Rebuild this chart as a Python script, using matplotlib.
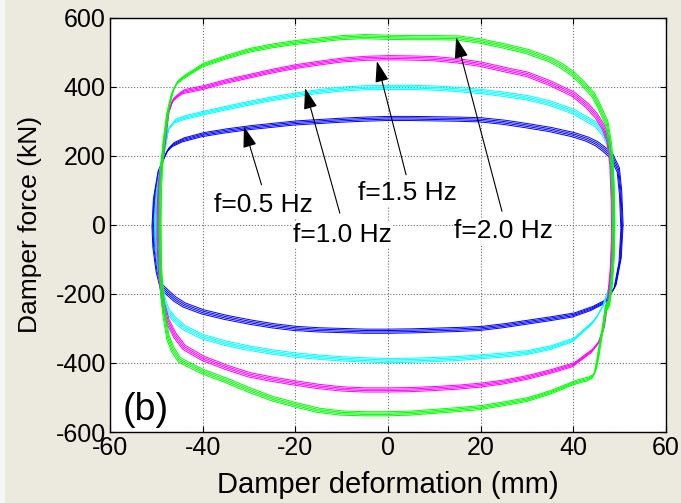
import matplotlib
matplotlib.use("Agg")
import matplotlib.pyplot as plt
from matplotlib.patches import Rectangle

plt.rcParams['font.family'] = ['Liberation Sans', 'DejaVu Sans']
plt.rcParams['axes.unicode_minus'] = False

# ---- data (x: mm, force: kN) ----
# upper branch (loading, left -> right, running through the right tip)
X_UP_05 = [-48.2, -47.5, -46.4, -44.2, -40, -35, -30, -25, -20, -15, -10, -5, 0, 5, 10, 15, 20, 25, 30, 35, 40, 43, 45, 46.5, 47.5, 48.3, 49.7, 50.2, 50.5, 50.1, 49.0, 47.5]
F_UP_05 = [198, 217, 232, 246, 261, 272, 281, 288, 295, 299, 303, 306, 308, 308, 307, 306, 304, 297, 287, 276, 261, 248, 235, 220, 208, 198, 159, 92, -5, -101, -179, -212]
# lower branch (unloading, right -> left, running through the left tip)
X_LO_05 = [46.5, 45, 44, 40, 35, 30, 25, 20, 15, 10, 5, 0, -5, -10, -15, -20, -25, -30, -35, -40, -44, -46, -47.5, -48.9, -49.8, -50.5, -50.7, -50.4, -49.4, -48.2]
F_LO_05 = [-225, -235, -242, -261, -272, -282, -292, -300, -303, -305, -307, -308, -308, -306, -304, -300, -292, -281, -268, -252, -232, -215, -197, -179, -130, -60, 0, 80, 160, 198]

X_UP_10 = [-48.5, -47.5, -46, -44, -40, -35, -30, -25, -20, -15, -10, -5, 0, 5, 10, 15, 20, 25, 30, 35, 40, 43, 45, 46.5, 47.5, 48.2, 48.6, 48.7, 48.5, 48.0, 47.2]
F_UP_10 = [200, 275, 300, 310, 323, 338, 352, 365, 376, 386, 393, 397, 398, 398, 396, 392, 386, 378, 368, 352, 328, 305, 290, 265, 237, 190, 100, 0, -100, -170, -205]
X_LO_10 = [46.5, 45, 44, 40, 35, 30, 25, 20, 15, 10, 5, 0, -5, -10, -15, -20, -25, -30, -35, -40, -44, -46, -47.5, -48.3, -49.2, -50.0, -50.2, -49.8, -49.0, -48.5]
F_LO_10 = [-232, -268, -285, -333, -356, -370, -377, -382, -387, -390, -392, -393, -391, -388, -383, -377, -368, -357, -343, -324, -298, -275, -250, -220, -150, -60, 20, 100, 170, 200]

X_UP_15 = [-48.5, -47.5, -46.5, -45, -44, -40, -35, -30, -25, -20, -15, -10, -5, 0, 5, 10, 15, 20, 25, 30, 35, 40, 43, 45, 46.5, 47.5, 48.1, 48.4, 48.5, 48.2, 47.6]
F_UP_15 = [205, 320, 360, 378, 386, 397, 415, 430, 445, 458, 468, 477, 482, 484, 483, 481, 475, 465, 450, 436, 410, 378, 345, 315, 282, 246, 180, 80, -20, -120, -210]
X_LO_15 = [47.2, 46.5, 45.5, 44, 42, 40, 35, 30, 25, 20, 15, 10, 5, 0, -5, -10, -15, -20, -25, -30, -35, -40, -44, -46, -47.5, -48.5, -49.2, -49.6, -49.6, -49.3, -48.5]
F_LO_15 = [-230, -300, -340, -365, -385, -405, -425, -442, -455, -464, -470, -474, -477, -478, -478, -475, -468, -458, -447, -434, -412, -386, -355, -320, -280, -230, -150, -50, 50, 130, 205]

X_UP_20 = [-48.8, -48.3, -47.5, -46.5, -45.5, -44, -42, -40, -35, -30, -25, -20, -15, -10, -5, 0, 5, 10, 15, 20, 25, 30, 35, 37.5, 40, 42, 44.3, 45.5, 46.5, 47.2, 48, 48.3, 48.6, 48.7, 48.6, 48.2, 47.6]
F_UP_20 = [180, 250, 330, 385, 412, 428, 445, 462, 485, 505, 518, 528, 535, 542, 545, 543, 542, 542, 541, 532, 518, 502, 478, 460, 436, 410, 376, 345, 315, 295, 230, 188, 100, 0, -100, -180, -240]
X_LO_20 = [47.2, 46.8, 46.3, 45.8, 45.3, 44.8, 44.3, 43, 42, 40, 37.5, 35, 32.5, 30, 25, 20, 15, 10, 5, 0, -5, -10, -15, -20, -25, -30, -35, -40, -43, -45, -46.5, -47.5, -48.3, -48.8, -49.1, -49.2, -49.1, -48.8]
F_LO_20 = [-227, -262, -305, -342, -385, -420, -438, -447, -450, -458, -472, -485, -496, -506, -518, -529, -535, -540, -545, -547, -547, -545, -537, -521, -503, -478, -450, -425, -405, -391, -360, -325, -260, -200, -120, 0, 100, 180]

# small shifts between the recorded cycles (kN)
CYCLE_SHIFT = [-6, -2, 2, 6]

LABELS = ['f=0.5 Hz', 'f=1.0 Hz', 'f=1.5 Hz', 'f=2.0 Hz']
COLORS = ['#0000ff', '#00ffff', '#ff00ff', '#00ff00']


def loop(xu, fu, xl, fl):
    xs = xu + xl + [xu[0]]
    fs = fu + fl + [fu[0]]
    return xs, fs


loops = [loop(X_UP_05, F_UP_05, X_LO_05, F_LO_05),
         loop(X_UP_10, F_UP_10, X_LO_10, F_LO_10),
         loop(X_UP_15, F_UP_15, X_LO_15, F_LO_15),
         loop(X_UP_20, F_UP_20, X_LO_20, F_LO_20)]

bg = '#ece9df'
fig = plt.figure(figsize=(6.81, 5.03), dpi=100, facecolor=bg)
fig.patches.append(Rectangle((0, 0), 5 / 681, 1, transform=fig.transFigure,
                             facecolor='#f6f6f2', edgecolor='none'))
ax = fig.add_axes([0.1615, 0.141, 0.8165, 0.824])

for (xs, fs), c in zip(loops, COLORS):
    for s in CYCLE_SHIFT:
        ax.plot([x + 0.04 * s for x in xs], [f + s for f in fs],
                color=c, lw=0.7)

ax.set_xlim(-60, 60)
ax.set_ylim(-600, 600)
ax.set_xticks(range(-60, 61, 20))
ax.set_yticks(range(-600, 601, 200))
ax.grid(True, linestyle=':', color='#707070', lw=0.8)
ax.tick_params(direction='in', length=4, top=True, right=True, labelsize=18, pad=3, color='k')
for sp in ax.spines.values():
    sp.set_linewidth(1.0)

ax.set_xlabel('Damper deformation (mm)', fontsize=21, labelpad=8)
ax.set_ylabel('Damper force (kN)', fontsize=19, labelpad=10)

# annotations: text position, arrow tail, arrow head
notes = [
    ('f=0.5 Hz', (-26.8, 58), (-27.3, 116), (-31.1, 285)),
    ('f=1.0 Hz', (-9.9, -29), (-10.4, 34), (-17.9, 396)),
    ('f=1.5 Hz', (4.2, 92), (3.9, 145), (-2.4, 474)),
    ('f=2.0 Hz', (25.0, -19), (24.6, 39), (14.7, 543)),
]
for txt, tpos, tail, head in notes:
    ax.annotate('', xy=head, xytext=tail,
                arrowprops=dict(arrowstyle='-|>,head_length=1.3,head_width=0.42',
                                color='k', lw=0.8, mutation_scale=10,
                                shrinkA=0, shrinkB=0))
    ax.text(tpos[0], tpos[1], txt, fontsize=19, ha='center', va='center',
            bbox=dict(facecolor='white', edgecolor='none', pad=0.5))

ax.text(-52.3, -536, '(b)', fontsize=27, ha='center', va='center')

fig.savefig('out.png', dpi=100, facecolor=bg)
